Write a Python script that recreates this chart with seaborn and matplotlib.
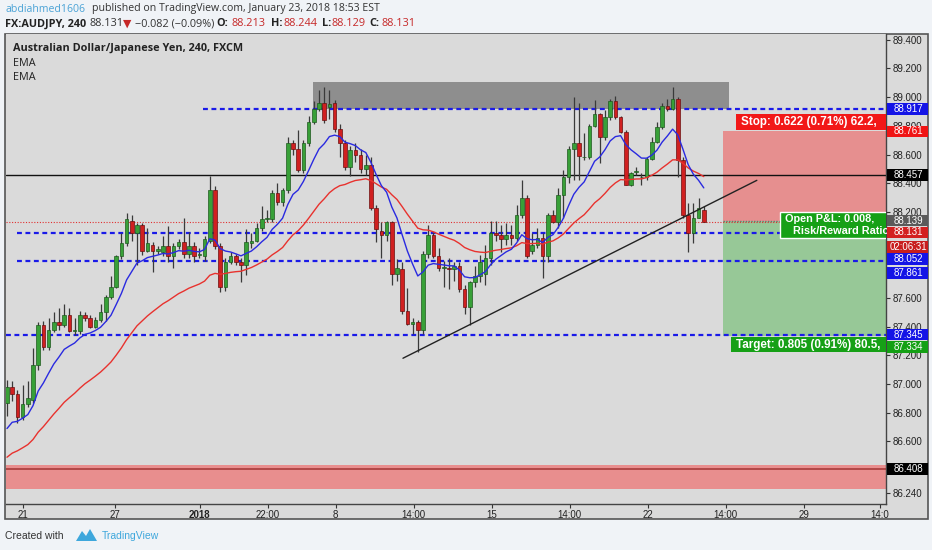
import numpy as np
import pandas as pd
import matplotlib
matplotlib.use('Agg')
import matplotlib.pyplot as plt
import seaborn as sns
from matplotlib.patches import Rectangle, Polygon
from matplotlib.transforms import blended_transform_factory

# --- data: AUDJPY 4h candles ---
opens = [86.87, 86.98, 86.93, 86.77, 86.86, 86.89, 87.13, 87.41, 87.26, 87.38,
         87.43, 87.41, 87.48, 87.37, 87.37, 87.48, 87.46, 87.40, 87.45, 87.50,
         87.61, 87.68, 87.89, 87.98, 88.14, 88.05, 88.11, 87.93, 87.97, 87.93,
         87.92, 87.96, 87.89, 87.96, 87.99, 87.91, 87.96, 87.90, 87.89, 88.00,
         88.35, 87.96, 87.68, 87.85, 87.89, 87.85, 87.83, 87.98, 88.00, 88.09,
         88.15, 88.15, 88.33, 88.27, 88.35, 88.68, 88.64, 88.49, 88.68, 88.83,
         88.92, 88.96, 88.93, 88.96, 88.78, 88.68, 88.51, 88.63, 88.60, 88.50,
         88.53, 88.23, 88.07, 88.04, 88.13, 87.77, 87.80, 87.51, 87.42, 87.43,
         87.38, 87.91, 88.04, 87.89, 87.81, 87.81, 87.80, 87.82, 87.66, 87.54,
         87.71, 87.75, 87.77, 87.88, 88.05, 88.04, 88.01, 88.04, 88.02, 88.18,
         88.30, 87.93, 87.97, 88.02, 87.89, 88.18, 88.13, 88.32, 88.44, 88.64,
         88.68, 88.58, 88.58, 88.80, 88.88, 88.72, 88.86, 88.97, 88.86, 88.76,
         88.39, 88.48, 88.44, 88.44, 88.57, 88.69, 88.79, 88.94, 88.92, 88.99,
         88.56, 88.18, 88.05, 88.16, 88.213]
highs = [87.03, 87.02, 86.96, 86.99, 87.02, 87.25, 87.43, 87.44, 87.46, 87.50,
         87.53, 87.56, 87.53, 87.46, 87.51, 87.50, 87.48, 87.47, 87.56, 87.62,
         87.75, 87.90, 88.05, 88.19, 88.18, 88.12, 88.12, 88.09, 87.99, 87.96,
         88.03, 88.10, 87.98, 88.01, 88.16, 88.06, 87.99, 87.95, 88.03, 88.45,
         88.38, 87.98, 87.88, 87.92, 87.91, 87.88, 88.08, 88.05, 88.12, 88.24,
         88.21, 88.35, 88.40, 88.37, 88.72, 88.70, 88.77, 88.70, 88.87, 88.97,
         89.05, 89.07, 89.05, 88.98, 88.81, 88.70, 88.66, 88.68, 88.64, 88.60,
         88.58, 88.25, 88.13, 88.14, 88.14, 87.87, 87.85, 87.67, 87.46, 87.45,
         87.93, 88.11, 88.06, 87.95, 87.86, 87.88, 87.85, 87.85, 87.69, 87.72,
         87.82, 87.90, 87.97, 88.14, 88.14, 88.11, 88.12, 88.11, 88.25, 88.42,
         88.32, 88.05, 88.09, 88.05, 88.19, 88.21, 88.37, 88.49, 88.66, 89.00,
         88.96, 88.75, 88.81, 88.98, 88.89, 88.91, 88.99, 89.01, 88.87, 88.77,
         88.48, 88.51, 88.47, 88.58, 88.72, 88.83, 88.96, 88.99, 89.07, 89.00,
         88.58, 88.26, 88.26, 88.30, 88.244]
lows = [86.78, 86.88, 86.73, 86.75, 86.84, 86.87, 87.10, 87.24, 87.24, 87.36,
        87.38, 87.40, 87.36, 87.34, 87.35, 87.44, 87.39, 87.39, 87.43, 87.44,
        87.59, 87.67, 87.87, 87.96, 88.00, 87.83, 87.90, 87.92, 87.78, 87.91,
        87.89, 87.85, 87.81, 87.94, 87.88, 87.88, 87.85, 87.88, 87.86, 87.98,
        87.94, 87.64, 87.65, 87.84, 87.83, 87.71, 87.76, 87.95, 87.99, 88.07,
        88.13, 88.13, 88.25, 88.24, 88.33, 88.60, 88.48, 88.47, 88.66, 88.81,
        88.90, 88.82, 88.85, 88.76, 88.58, 88.49, 88.45, 88.55, 88.47, 88.46,
        88.21, 87.99, 87.88, 88.00, 87.69, 87.72, 87.49, 87.41, 87.35, 87.22,
        87.35, 87.88, 87.88, 87.79, 87.68, 87.66, 87.72, 87.64, 87.49, 87.41,
        87.68, 87.71, 87.69, 87.83, 88.00, 87.92, 87.97, 87.97, 88.00, 88.16,
        87.88, 87.91, 87.95, 87.74, 87.85, 88.12, 88.09, 88.16, 88.40, 88.42,
        88.42, 88.56, 88.57, 88.79, 88.54, 88.70, 88.84, 88.85, 88.75, 88.39,
        88.38, 88.46, 88.39, 88.42, 88.56, 88.68, 88.78, 88.90, 88.91, 88.44,
        88.16, 87.92, 87.98, 88.16, 88.129]
closes = [86.98, 86.93, 86.77, 86.86, 86.90, 87.13, 87.41, 87.26, 87.38, 87.43,
          87.41, 87.48, 87.37, 87.38, 87.48, 87.46, 87.40, 87.45, 87.50, 87.61,
          87.68, 87.89, 87.98, 88.15, 88.05, 88.11, 87.93, 87.98, 87.93, 87.94,
          87.96, 87.89, 87.96, 87.99, 87.91, 87.96, 87.89, 87.91, 88.01, 88.35,
          87.96, 87.68, 87.85, 87.89, 87.85, 87.83, 87.99, 88.00, 88.09, 88.15,
          88.16, 88.33, 88.27, 88.35, 88.68, 88.64, 88.49, 88.68, 88.83, 88.92,
          88.96, 88.84, 88.95, 88.78, 88.68, 88.51, 88.63, 88.60, 88.50, 88.53,
          88.23, 88.08, 88.04, 88.13, 87.77, 87.81, 87.51, 87.42, 87.43, 87.38,
          87.91, 88.04, 87.89, 87.81, 87.81, 87.80, 87.82, 87.66, 87.54, 87.71,
          87.75, 87.85, 87.88, 88.05, 88.04, 88.01, 88.04, 88.02, 88.18, 88.30,
          87.89, 87.97, 88.02, 87.89, 88.18, 88.13, 88.32, 88.44, 88.64, 88.68,
          88.59, 88.58, 88.80, 88.88, 88.72, 88.86, 88.97, 88.86, 88.76, 88.39,
          88.47, 88.48, 88.44, 88.57, 88.69, 88.79, 88.94, 88.92, 88.99, 88.56,
          88.18, 88.05, 88.16, 88.23, 88.131]

# EMA values at the first visible candle (history before the window)
ema_fast_start = 86.69
ema_slow_start = 86.49
ema_fast_span = 10
ema_slow_span = 30

x_tick_pos = [3, 20.8, 37.1, 50.2, 63.2, 78.2, 93.2, 108.2, 123.2, 138.2, 153.2, 167.9]
x_tick_labels = ['21', '27', '2018', '22:00', '8', '14:00', '15', '14:00', '22', '14:00', '29', '14:0']

y_tick_pos = [89.4, 89.2, 89.0, 88.8, 88.6, 88.4, 88.2, 87.6, 87.4, 87.2, 87.0, 86.8, 86.6, 86.24]
y_tick_labels = ['89.400', '89.200', '89.000', '88.800', '88.600', '88.400', '88.200',
                 '87.600', '87.400', '87.200', '87.000', '86.800', '86.600', '86.240']

# drawings
blue_levels = [88.917, 88.052, 87.861, 87.345]
blue_starts = [37.7, 1.9, 1.9, -0.2]
black_level = 88.457
last_price = 88.131
support_zone = (86.268, 86.435)
support_line = 86.408
resist_box = (58.8, 138.8, 88.917, 89.105)
trend_pts = ([76.15, 144.2], [87.18, 88.42])
pos_start = 137.7
entry = 88.139
stop = 88.761
target = 87.334

# position tool labels: (left, bottom, top, text x, text, colour)
pos_labels = [
    (140.2, 88.77, 88.885, 141.1, 'Stop: 0.622 (0.71%) 62.2,', '#f21818'),
    (139.2, 87.223, 87.327, 140.1, 'Target: 0.805 (0.91%) 80.5,', '#16a016'),
]

# price-axis tags: (position on axis, text, colour)
price_tags = [
    (88.917, '88.917', '#1414e6'),
    (88.761, '88.761', '#f01414'),
    (88.457, '88.457', '#000000'),
    (88.139, '88.139', '#5a5a5a'),
    (88.057, '88.131', '#d32020'),
    (87.955, '02:06:31', '#c81e1e'),
    (87.871, '88.052', '#1414e6'),
    (87.774, '87.861', '#1414e6'),
    (87.345, '87.345', '#1414e6'),
    (87.258, '87.334', '#14a014'),
    (86.408, '86.408', '#000000'),
]

W, H = 932, 550
sns.set_style('white')
plt.rcParams['font.family'] = ['Liberation Sans', 'DejaVu Sans']

fig = plt.figure(figsize=(W / 100, H / 100), dpi=100)
fig.patch.set_facecolor('#f0f3f7')

def fx(px):
    return px / W

def fy(py):
    return 1 - py / H

chart_bg = '#dadada'
# outer frame incl. both axis strips (drawn beneath the axes)
fig.patches.append(Rectangle((fx(5), fy(519)), fx(928) - fx(5), fy(34) - fy(519),
                             transform=fig.transFigure, facecolor=chart_bg,
                             edgecolor='#555555', lw=1.2, zorder=-5))

ax = fig.add_axes([fx(6), fy(504), fx(886) - fx(6), fy(34) - fy(504)])
ax.set_zorder(1)
ax.set_facecolor(chart_bg)
ax.set_xlim(-0.19, 169.04)
ax.set_ylim(86.164, 89.44)

idx = np.arange(len(closes))
o = np.array(opens)
c = np.array(closes)
up = c >= o

# zones and boxes
ax.axhspan(support_zone[0], support_zone[1], color='#e88e8e', zorder=1, lw=0)
ax.axhline(support_line, color='#a83a3a', lw=1.2, zorder=1.5)
ax.add_patch(Rectangle((resist_box[0], resist_box[2]), resist_box[1] - resist_box[0],
                       resist_box[3] - resist_box[2], facecolor='#8e8e8e', lw=0, zorder=1))
ax.add_patch(Rectangle((pos_start, entry), 200, stop - entry, facecolor='#e68f8f', lw=0, zorder=1))
ax.add_patch(Rectangle((pos_start, target), 200, entry - target, facecolor='#97c897', lw=0, zorder=1))
ax.plot([pos_start, 200], [entry, entry], color='#707070', lw=1, ls=(0, (1, 1)), zorder=1.2)

ax.axhline(black_level, color='#111111', lw=1, zorder=2)
ax.axhline(last_price, color='#e03030', lw=0.8, ls=(0, (1, 1.5)), zorder=2)
for lvl, st in zip(blue_levels, blue_starts):
    ax.plot([st, 200], [lvl, lvl], color='#1a1ae8', lw=1.6, ls=(0, (2.2, 1.6)), zorder=2)

# candles
ax.vlines(idx, lows, highs, color='#3a3a3a', lw=0.9, zorder=3)
body = np.where(np.abs(c - o) < 0.006, 0.006, c - o)
ax.bar(idx[up], body[up], bottom=o[up], width=0.72, color='#38a038',
       edgecolor='#1e5a1e', lw=0.5, zorder=4)
ax.bar(idx[~up], body[~up], bottom=o[~up], width=0.72, color='#d02020',
       edgecolor='#6a0f0f', lw=0.5, zorder=4)

# EMA lines
fast = pd.Series([ema_fast_start] + closes[1:]).ewm(span=ema_fast_span, adjust=False).mean()
slow = pd.Series([ema_slow_start] + closes[1:]).ewm(span=ema_slow_span, adjust=False).mean()
sns.lineplot(x=idx, y=slow.values, ax=ax, color='#e8322e', lw=1, zorder=5)
sns.lineplot(x=idx, y=fast.values, ax=ax, color='#2a2ae0', lw=1, zorder=5)

# trend line
ax.plot(trend_pts[0], trend_pts[1], color='#222222', lw=1, zorder=6)

# position labels (boxes run off under the price scale)
for left, bot, top, tx, txt, col in pos_labels:
    ax.add_patch(Rectangle((left, bot), 60, top - bot, facecolor=col, lw=0, zorder=8))
    ax.text(tx, (bot + top) / 2, txt, color='white', fontsize=8.4, fontweight='bold',
            va='center', ha='left', zorder=9)
ax.add_patch(Rectangle((148.65, 88.017), 60, 0.182, facecolor='#16a016', edgecolor='white',
                       lw=1, zorder=8))
ax.text(149.6, 88.152, 'Open P&L: 0.008,', color='white', fontsize=7.8, fontweight='bold',
        va='center', ha='left', zorder=9)
ax.text(151.1, 88.068, 'Risk/Reward Ratio', color='white', fontsize=7.8, fontweight='bold',
        va='center', ha='left', zorder=9)

# axes styling
for s in ['top', 'left']:
    ax.spines[s].set_visible(False)
for s in ['right', 'bottom']:
    ax.spines[s].set_color('#444444')
    ax.spines[s].set_linewidth(1)

ax.yaxis.tick_right()
ax.set_yticks(y_tick_pos)
ax.set_yticklabels(y_tick_labels)
ax.tick_params(axis='y', which='both', right=True, length=3, width=0.8, color='#333333',
               labelsize=7, labelcolor='#222222', pad=2)
ax.set_xticks(x_tick_pos)
ax.set_xticklabels(x_tick_labels)
ax.tick_params(axis='x', bottom=True, length=3, width=0.8, color='#333333',
               labelsize=7, labelcolor='#222222', pad=1.5)
for lab in ax.get_xticklabels():
    if lab.get_text() == '2018':
        lab.set_fontweight('bold')
ax.set_xlabel('')
ax.set_ylabel('')
ax.grid(False)

# price tags on the right scale
tr = blended_transform_factory(ax.transAxes, ax.transData)
tag_w = 41 / 880
tag_h = 11.6 / 143.5
for pos, txt, col in price_tags:
    ax.add_patch(Rectangle((1.0015, pos - tag_h / 2), tag_w, tag_h, transform=tr,
                           facecolor=col, lw=0, clip_on=False, zorder=10))
    ax.text(1.0015 + tag_w / 2 + 0.001, pos, txt, transform=tr, color='white', fontsize=7,
            ha='center', va='center', clip_on=False, zorder=11)

# legend texts
lf = ['Open Sans', 'DejaVu Sans']
fig.text(fx(13), fy(48), 'Australian Dollar/Japanese Yen, 240, FXCM', fontsize=7.8,
         fontweight='bold', color='#222222', va='center', family=lf, zorder=5)
fig.text(fx(13), fy(63), 'EMA', fontsize=7.8, color='#222222', va='center', family=lf, zorder=5)
fig.text(fx(13), fy(77), 'EMA', fontsize=7.8, color='#222222', va='center', family=lf, zorder=5)

# header
hf = ['Open Sans', 'DejaVu Sans']
fig.text(fx(5), fy(9), 'abdiahmed1606', fontsize=7.6, color='#4ba3d6', va='center', family=hf)
fig.text(fx(92), fy(9), 'published on TradingView.com, January 23, 2018 18:53 EST', fontsize=7.6,
         color='#333333', va='center', family=hf)
red = '#c62828'
pieces = [
    (5, 'FX:AUDJPY, 240', '#222222', 'bold'),
    (89, '88.131', '#333333', 'normal'),
    (123, '\u25bc', red, 'normal'),
    (135, '\u22120.082 (\u22120.09%)', '#333333', 'normal'),
    (216, 'O:', '#222222', 'bold'),
    (231, '88.213', red, 'normal'),
    (271, 'H:', '#222222', 'bold'),
    (284, '88.244', red, 'normal'),
    (322, 'L:', '#222222', 'bold'),
    (332, '88.129', red, 'normal'),
    (369, 'C:', '#222222', 'bold'),
    (381, '88.131', red, 'normal'),
]
for px, txt, col, wt in pieces:
    fig.text(fx(px), fy(24), txt, fontsize=7.8, color=col, fontweight=wt, va='center',
             family=['DejaVu Sans'] if txt == '\u25bc' else hf)

# footer
fig.text(fx(5), fy(536), 'Created with', fontsize=7.5, color='#333333', va='center',
         family=['Liberation Sans Narrow', 'Liberation Sans'])
logo = [(76, 541), (82, 531), (86, 536), (90, 529), (97, 541)]
fig.patches.append(Polygon([(fx(a), fy(b)) for a, b in logo], closed=True,
                           transform=fig.transFigure, facecolor='#3ea7dc', lw=0))
fig.text(fx(102), fy(536), 'TradingView', fontsize=7.5, color='#3ea7dc', va='center',
         family=['Liberation Sans Narrow', 'Liberation Sans'])

fig.savefig('out.png', dpi=100, facecolor=fig.get_facecolor())
